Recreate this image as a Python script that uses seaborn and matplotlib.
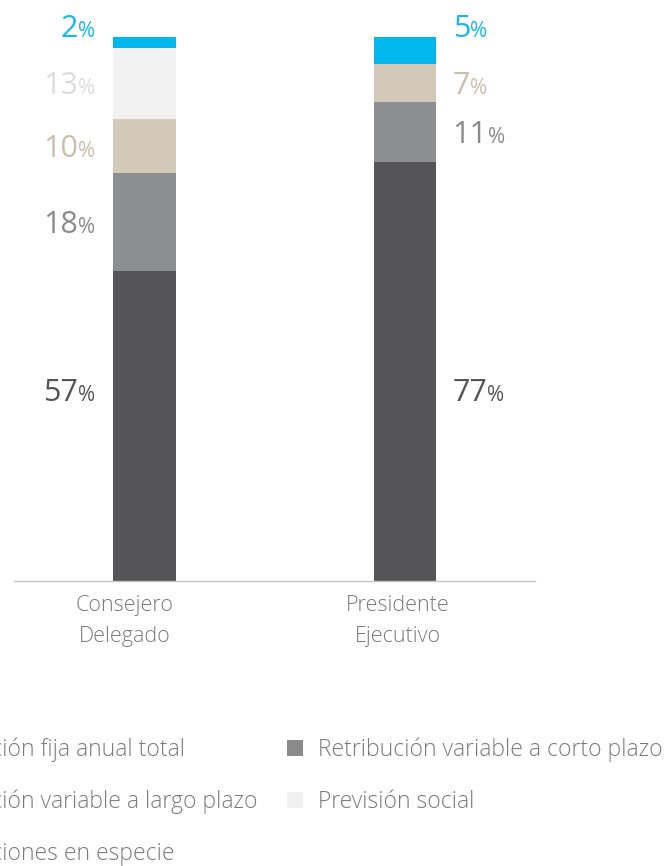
import matplotlib
matplotlib.use("Agg")
import matplotlib.pyplot as plt
import matplotlib.transforms as mtransforms
from matplotlib.patches import Patch
import pandas as pd
import seaborn as sns

# Data
categories = ["Consejero\nDelegado", "Presidente\nEjecutivo"]
components = [
    "Retribución fija anual total",
    "Retribución variable a corto plazo",
    "Retribución variable a largo plazo",
    "Previsión social",
    "Retribuciones en especie",
]
fija = [57, 77]
corto_plazo = [18, 11]
largo_plazo = [10, 7]
prevision = [13, 0]
especie = [2, 5]

bar_colors = ["#555557", "#8d8e90", "#d2c9b8", "#f2f2f2", "#00b8ec"]
label_colors = ["#555555", "#8a8a8a", "#c9bfae", "#dcdcdc", "#1ab8ea"]
legend_colors = ["#555557", "#8a8a8a", "#d2c9b8", "#f0f0f0", "#00b8ec"]

series = [fija, corto_plazo, largo_plazo, prevision, especie]


def add_label(ax, x, y, value, color, side, renderer):
    """Number in big type with a smaller percent sign, baseline aligned."""
    num_size, pct_size = 22, 15
    dy = -8  # points, roughly half the digit height
    if side == "left":
        pct = ax.annotate("%", (x, y), xytext=(0, dy), textcoords="offset points",
                          ha="right", va="baseline", fontsize=pct_size, color=color,
                          fontweight="normal")
        w = pct.get_window_extent(renderer).width * 72 / ax.figure.dpi
        ax.annotate(f"{value}", (x, y), xytext=(-w, dy), textcoords="offset points",
                    ha="right", va="baseline", fontsize=num_size, color=color,
                    fontweight="normal")
    else:
        num = ax.annotate(f"{value}", (x, y), xytext=(0, dy), textcoords="offset points",
                          ha="left", va="baseline", fontsize=num_size, color=color,
                          fontweight="normal")
        w = num.get_window_extent(renderer).width * 72 / ax.figure.dpi
        ax.annotate("%", (x, y), xytext=(w, dy), textcoords="offset points",
                    ha="left", va="baseline", fontsize=pct_size, color=color,
                    fontweight="normal")


def main():
    sns.set_theme(style="white")
    plt.rcParams["font.family"] = ["Open Sans", "DejaVu Sans"]
    plt.rcParams["font.weight"] = "light"

    fig = plt.figure(figsize=(6.64, 8.66), dpi=100)
    ax = fig.add_axes([0.021, 0.329, 0.785, 0.671])

    df = pd.DataFrame({"cat": categories})
    bottom = [0, 0]
    for name, vals, color in zip(components, series, bar_colors):
        df[name] = vals
        sns.barplot(data=df, x="cat", y=name, color=color, width=0.24,
                    saturation=1, bottom=bottom, linewidth=0, ax=ax)
        bottom = [b + v for b, v in zip(bottom, vals)]

    ax.set_xlim(-0.5, 1.5)
    ax.set_ylim(0, 106.8)
    ax.set_xlabel("")
    ax.set_ylabel("")
    ax.set_yticks([])
    ax.tick_params(axis="x", length=0, pad=10, labelsize=15.5, labelcolor="#7a7a7a")
    # the category labels sit a little left of the bar centres in the original
    shifts = [-20, -7]
    for lbl, dx in zip(ax.get_xticklabels(), shifts):
        lbl.set_linespacing(1.6)
        lbl.set_transform(lbl.get_transform() +
                          mtransforms.ScaledTranslation(dx / 100, 0, fig.dpi_scale_trans))
    for side in ["top", "left", "right"]:
        ax.spines[side].set_visible(False)
    ax.spines["bottom"].set_color("#c4c4c4")
    ax.spines["bottom"].set_linewidth(1.0)

    # value labels: left of first bar, right of second bar
    renderer = fig.canvas.get_renderer()
    offsets = [-0.19, 0.183]
    sides = ["left", "right"]
    for i in range(len(categories)):
        base = 0
        total = sum(s[i] for s in series)
        for k, vals in enumerate(series):
            v = vals[i]
            if v == 0:
                continue
            if k == 0:
                y = 35.1
            elif k == len(series) - 1:
                y = total + 2.0
            else:
                y = base + v / 2
            add_label(ax, i + offsets[i], y, v, label_colors[k], sides[i], renderer)
            base += v

    handles = [Patch(facecolor=c, edgecolor="none") for c in legend_colors]
    order = [0, 2, 4, 1, 3]
    fig.legend([handles[j] for j in order], [components[j] for j in order],
               ncol=2, loc="upper left", bbox_to_anchor=(-0.204, 0.172),
               frameon=False, fontsize=16.5, labelcolor="#7a7a7a",
               handlelength=0.7, handleheight=0.7, handletextpad=0.65,
               labelspacing=1.21, columnspacing=1.27)

    fig.savefig("out.png", dpi=100)
    plt.close(fig)


if __name__ == "__main__":
    main()
